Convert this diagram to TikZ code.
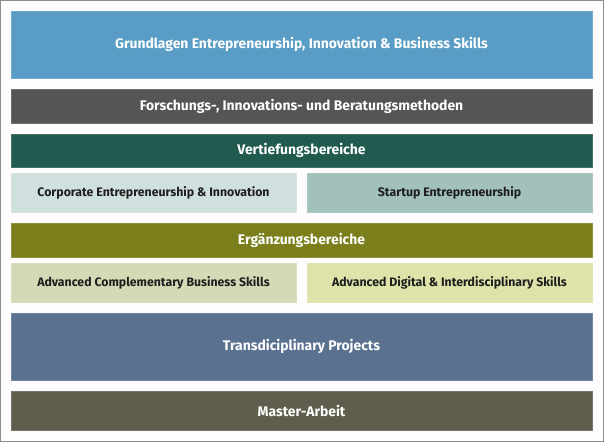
\documentclass[tikz,border=0pt]{standalone}
\usepackage{fontspec}
\setmainfont{Fira Sans}
\definecolor{cBlue}{HTML}{599DC6}
\definecolor{cGray}{HTML}{555555}
\definecolor{cTeal}{HTML}{215B50}
\definecolor{cTealL}{HTML}{D0E0DE}
\definecolor{cTealM}{HTML}{A3C1BB}
\definecolor{cOlive}{HTML}{7A7F1C}
\definecolor{cOliveL}{HTML}{D5D9B5}
\definecolor{cOliveM}{HTML}{DDE3A9}
\definecolor{cSlate}{HTML}{5A728F}
\definecolor{cDark}{HTML}{5F5E4D}
\definecolor{cText}{HTML}{1E1E1E}
\definecolor{cBorder}{HTML}{8C8C8C}
\definecolor{cBg}{HTML}{FEFCFD}
\tikzset{
  layer/.style={anchor=north west, inner sep=0pt, outer sep=0pt, line width=0.6pt,
    minimum width=581pt, text=white, font=\bfseries\fontsize{13.9}{16}\selectfont},
  half/.style={layer, minimum width=285pt, text=cText, font=\bfseries\fontsize{12.3}{14}\selectfont},
}
\begin{document}
\begin{tikzpicture}[x=1pt,y=-1pt]
\useasboundingbox (0,0) rectangle (604,442);
\draw[cBorder, fill=cBg, line width=1pt] (0.5,0.5) rectangle (603.5,441.5);
\node[layer, fill=cBlue, draw=cBlue!85!white, minimum height=67pt] (grund) at (11,11) {Grundlagen Entrepreneurship, Innovation \& Business Skills};
\node[layer, fill=cGray, draw=cGray!85!white, minimum height=34pt] (forsch) at (11,89) {Forschungs-, Innovations- und Beratungsmethoden};
\node[layer, fill=cTeal, draw=cTeal!85!white, minimum height=33pt] (vert) at (11,134) {Vertiefungsbereiche};
\node[half, fill=cTealL, draw=cTealL!90!white, minimum height=39pt] (corp) at (11,173) {Corporate Entrepreneurship \& Innovation};
\node[half, fill=cTealM, draw=cTealM!90!white, minimum height=39pt] (start) at (307,173) {Startup Entrepreneurship};
\node[layer, fill=cOlive, draw=cOlive!85!white, minimum height=34pt] (erg) at (11,223) {Ergänzungsbereiche};
\node[half, fill=cOliveL, draw=cOliveL!90!white, minimum height=39pt] (compl) at (11,263) {Advanced Complementary Business Skills};
\node[half, fill=cOliveM, draw=cOliveM!90!white, minimum height=39pt] (digi) at (307,263) {Advanced Digital \& Interdisciplinary Skills};
\node[layer, fill=cSlate, draw=cSlate!85!white, minimum height=67pt] (trans) at (11,313) {Transdiciplinary Projects};
\node[layer, fill=cDark, draw=cDark!85!white, minimum height=39pt] (master) at (11,391) {Master-Arbeit};
\end{tikzpicture}
\end{document}
